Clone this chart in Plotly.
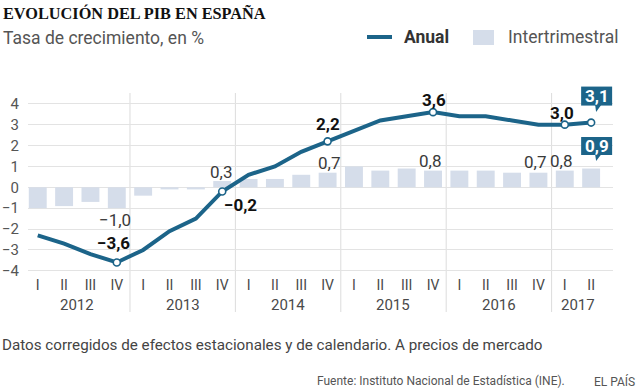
import plotly.graph_objects as go

# ---------------- data ----------------
quarters = ["I", "II", "III", "IV"] * 5 + ["I", "II"]
years = ["2012", "2013", "2014", "2015", "2016", "2017"]
anual = [-2.3, -2.7, -3.2, -3.6, -3.0, -2.1, -1.5, -0.2,
         0.6, 1.0, 1.7, 2.2, 2.7, 3.2, 3.4, 3.6,
         3.4, 3.4, 3.2, 3.0, 3.0, 3.1]
intertrimestral = [-1.0, -0.9, -0.7, -1.0, -0.4, -0.1, -0.1, 0.3,
                   0.4, 0.4, 0.6, 0.7, 1.0, 0.8, 0.9, 0.8,
                   0.8, 0.8, 0.7, 0.7, 0.8, 0.9]
anual_marked = [3, 7, 11, 15, 20, 21]

xs = list(range(len(quarters)))

# ---------------- layout helpers ----------------
W, H = 640, 390
L, R, T, B = 28, 27, 85, 115
pw, ph = W - L - R, H - T - B


def pxx(xp):
    return (xp - L) / pw


def pxy(yp):
    return (H - B - yp) / ph


def fmt(v):
    s = f"{abs(v):.1f}".replace(".", ",")
    return ("\u2212" if v < 0 else "") + s


LINE = "#1c6489"
BAR = "#d5ddea"
GRID = "#e3e3e3"
TXT = "#4a4a4a"
FONT = "Roboto"

fig = go.Figure()

fig.add_trace(go.Bar(x=xs, y=intertrimestral, marker=dict(color=BAR, line=dict(width=0)),
                     width=0.68, showlegend=False, hoverinfo="skip"))
fig.add_trace(go.Scatter(x=xs, y=anual, mode="lines", line=dict(color=LINE, width=4),
                         showlegend=False, hoverinfo="skip"))
fig.add_trace(go.Scatter(x=[xs[i] for i in anual_marked], y=[anual[i] for i in anual_marked],
                         mode="markers",
                         marker=dict(color="white", size=7, line=dict(color=LINE, width=1.6)),
                         showlegend=False, hoverinfo="skip"))

ann = []
shapes = []

# year separators
for k in range(1, len(years)):
    xv = 4 * k - 0.5
    shapes.append(dict(type="line", xref="x", yref="paper", x0=xv, x1=xv,
                       y0=pxy(312), y1=pxy(93), line=dict(color="#dcdcdc", width=1), layer="below"))

# year labels
for k, yr in enumerate(years):
    n = min(4, len(quarters) - 4 * k)
    ann.append(dict(x=4 * k + (n - 1) / 2, y=pxy(305), xref="x", yref="paper", text=yr,
                    showarrow=False, font=dict(family=FONT, size=15, color=TXT),
                    xanchor="center", yanchor="middle"))

# annual line labels (bold)
line_shift = {3: (-3, 19), 7: (18, -14), 11: (0, 17), 15: (1, 12), 20: (-3, 12)}
for i, (dx, dy) in line_shift.items():
    ann.append(dict(x=xs[i], y=anual[i], text="<b>" + fmt(anual[i]) + "</b>", showarrow=False,
                    xshift=dx, yshift=dy, xanchor="center", yanchor="middle",
                    font=dict(family=FONT, size=17, color="#111111")))

# bar labels (regular)
bar_shift = {3: (-2, -12), 7: (-1, 9), 11: (1, 9.5), 15: (-3, 10), 19: (-3.5, 11), 20: (-3.5, 10)}
for i, (dx, dy) in bar_shift.items():
    ann.append(dict(x=xs[i], y=intertrimestral[i], text=fmt(intertrimestral[i]), showarrow=False,
                    xshift=dx, yshift=dy, xanchor="center", yanchor="middle",
                    font=dict(family=FONT, size=17, color="#3a3a3a")))

# callouts for last quarter
last = len(xs) - 1
for yv, top, bot, tip in [(anual[last], 36, 17, 10.5), (intertrimestral[last], 31.5, 13.5, 7.5)]:
    shapes.append(dict(type="rect", xref="x", yref="y", xsizemode="pixel", ysizemode="pixel",
                       xanchor=xs[last], yanchor=yv, x0=-10, x1=21, y0=bot, y1=top,
                       fillcolor=LINE, line=dict(width=0)))
    shapes.append(dict(type="path", xref="x", yref="y", xsizemode="pixel", ysizemode="pixel",
                       xanchor=xs[last], yanchor=yv,
                       path=f"M 4 {bot+0.5} L 10 {bot+0.5} L 5 {tip} Z",
                       fillcolor=LINE, line=dict(width=0)))
    ann.append(dict(x=xs[last], y=yv, text="<b>" + fmt(yv) + "</b>", showarrow=False,
                    xshift=5.5, yshift=(top + bot) / 2, xanchor="center", yanchor="middle",
                    font=dict(family=FONT, size=17, color="white")))

# title & subtitle
ann.append(dict(x=pxx(1), y=pxy(14), xref="paper", yref="paper", xanchor="left", yanchor="middle",
                text="<b>EVOLUCIÓN DEL PIB EN ESPAÑA</b>", showarrow=False,
                font=dict(family="Liberation Serif", size=16.3, color="#111111")))
ann.append(dict(x=pxx(1), y=pxy(38), xref="paper", yref="paper", xanchor="left", yanchor="middle",
                text="Tasa de crecimiento, en %", showarrow=False,
                font=dict(family=FONT, size=17.5, color="#555555")))

# legend (manual)
shapes.append(dict(type="line", xref="paper", yref="paper", x0=pxx(367), x1=pxx(392),
                   y0=pxy(37), y1=pxy(37), line=dict(color=LINE, width=4)))
ann.append(dict(x=pxx(402), y=pxy(37), xref="paper", yref="paper", xanchor="left", yanchor="middle",
                text="<b>Anual</b>", showarrow=False, font=dict(family=FONT, size=17.5, color="#333333")))
shapes.append(dict(type="rect", xref="paper", yref="paper", x0=pxx(473), x1=pxx(494),
                   y0=pxy(45), y1=pxy(30), fillcolor=BAR, line=dict(width=0)))
ann.append(dict(x=pxx(506), y=pxy(37), xref="paper", yref="paper", xanchor="left", yanchor="middle",
                text="Intertrimestral", showarrow=False, font=dict(family=FONT, size=17.5, color="#555555")))

# footer
ann.append(dict(x=pxx(0), y=pxy(345), xref="paper", yref="paper", xanchor="left", yanchor="middle",
                text="Datos corregidos de efectos estacionales y de calendario. A precios de mercado",
                showarrow=False, font=dict(family=FONT, size=15.2, color="#444444")))
ann.append(dict(x=pxx(315), y=pxy(381), xref="paper", yref="paper", xanchor="left", yanchor="middle",
                text="Fuente: Instituto Nacional de Estadística (INE).", showarrow=False,
                font=dict(family=FONT, size=12, color="#555555")))
ann.append(dict(x=pxx(637), y=pxy(381), xref="paper", yref="paper", xanchor="right", yanchor="middle",
                text="EL PAÍS", showarrow=False, font=dict(family=FONT, size=12, color="#555555")))

fig.update_layout(
    width=W, height=H,
    margin=dict(l=L, r=R, t=T, b=B),
    paper_bgcolor="white", plot_bgcolor="white",
    bargap=0.3,
    annotations=ann, shapes=shapes,
    xaxis=dict(range=[-0.37, 21.83], tickvals=xs, ticktext=quarters, showgrid=False,
               zeroline=False, showline=False, ticks="", automargin=False,
               tickfont=dict(family=FONT, size=14, color=TXT)),
    yaxis=dict(range=[-4.2, 4.9], tickvals=list(range(-4, 5)), showgrid=True, gridcolor=GRID,
               gridwidth=1, zeroline=False, showline=False, ticks="", ticklabelstandoff=8,
               automargin=False,
               tickfont=dict(family=FONT, size=15, color="#555555")),
)

fig.write_html("out.html", config={"displayModeBar": False},
               post_script="document.body.style.margin='0';")
